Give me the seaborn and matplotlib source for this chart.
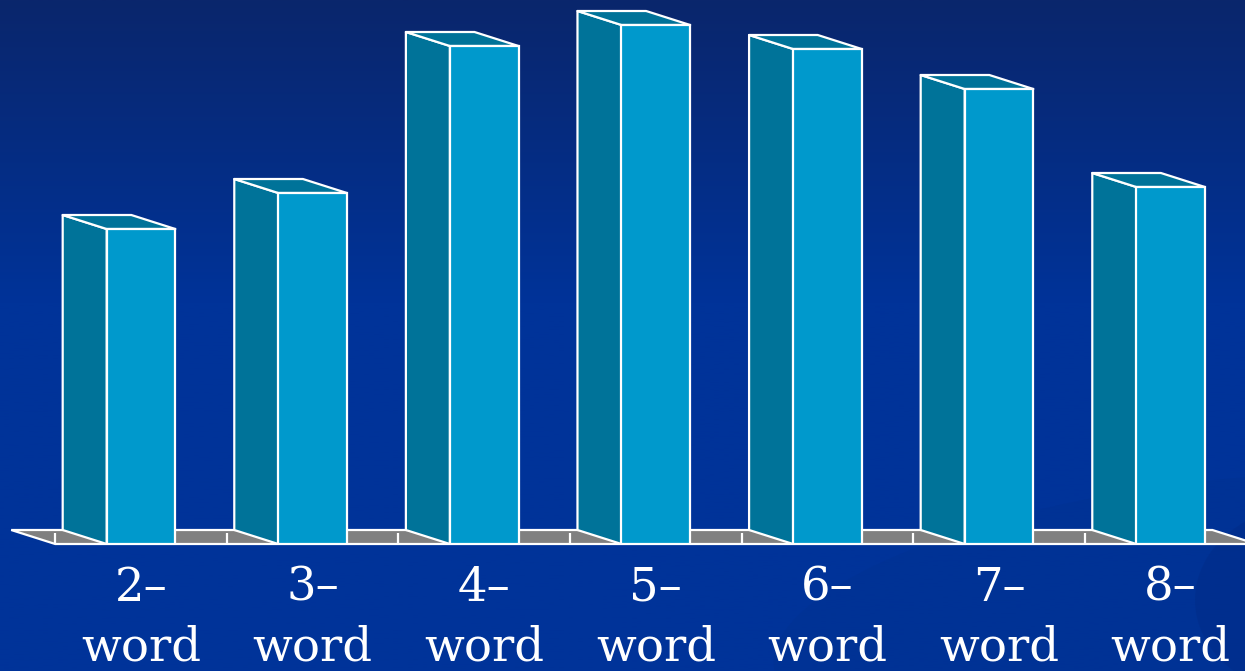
import numpy as np
import matplotlib
matplotlib.use("Agg")
import matplotlib.pyplot as plt
from matplotlib.patches import Polygon, Ellipse
from matplotlib.colors import LinearSegmentedColormap
import seaborn as sns

# ---- data ----
categories = ["2–\nword", "3–\nword", "4–\nword", "5–\nword", "6–\nword", "7–\nword", "8–\nword"]
values = [31.5, 35.1, 49.8, 51.9, 49.5, 45.5, 35.7]

FRONT = "#0099CC"
SIDE = "#007399"
FLOOR = "#808080"

sns.set_theme(style="white")
plt.rcParams["font.family"] = ["DejaVu Serif"]

W, H, DPI = 1245, 671, 100
fig = plt.figure(figsize=(W / DPI, H / DPI), dpi=DPI)

# background gradient
bg = fig.add_axes([0, 0, 1, 1], zorder=-10)
bg.set_axis_off()
cmap = LinearSegmentedColormap.from_list(
    "bgc", [(0.0, "#0a266c"), (0.45, "#003399"), (1.0, "#003399")])
grad = np.linspace(0, 1, 256).reshape(-1, 1)
bg.imshow(grad, aspect="auto", cmap=cmap, extent=[0, W, H, 0])
bg.set_xlim(0, W)
bg.set_ylim(H, 0)
bg.add_patch(Ellipse((1180, 610), 820, 250, angle=-8, facecolor="#00318f",
                     edgecolor="none", alpha=0.4))
bg.add_patch(Ellipse((1310, 600), 230, 190, angle=0, facecolor="#002c88",
                     edgecolor="none", alpha=0.5))

# main axes
base_px = 127
step = 171.6
ax = fig.add_axes([0, base_px / H, 1, (H - base_px) / H])
ax.set_facecolor("none")

sns.barplot(x=categories, y=values, width=0.4, color=FRONT, saturation=1,
            edgecolor="white", linewidth=1.6, ax=ax, zorder=3)

xmin, xmax = -141 / step, (W - 141) / step
ymax = (H - base_px) / 10
ax.set_xlim(xmin, xmax)
ax.set_ylim(0, ymax)

# depth offsets in data units (pixel offsets -44, +14)
dx = -44 * (xmax - xmin) / W
dy = 14 * ymax / (H - base_px)

# floor
n = len(categories)
floor = Polygon([(-0.5, 0), (n - 0.5, 0), (n - 0.5 + dx, dy), (-0.5 + dx, dy)],
                closed=True, facecolor=FLOOR, edgecolor="white", linewidth=1.6,
                zorder=1, clip_on=False)
ax.add_patch(floor)
for k in range(n):
    ax.plot([k - 0.5, k - 0.5], [0, 0.8 * dy], color="white", lw=1.6,
            zorder=1.5, clip_on=False, solid_capstyle="butt")

# 3D side and top faces from bar patches
for p in list(ax.patches):
    if p is floor:
        continue
    x0, w, h = p.get_x(), p.get_width(), p.get_height()
    side = Polygon([(x0, 0), (x0, h), (x0 + dx, h + dy), (x0 + dx, dy)],
                   closed=True, facecolor=SIDE, edgecolor="white",
                   linewidth=1.6, zorder=2, joinstyle="round")
    top = Polygon([(x0, h), (x0 + w, h), (x0 + w + dx, h + dy), (x0 + dx, h + dy)],
                  closed=True, facecolor=SIDE, edgecolor="white",
                  linewidth=1.6, zorder=2, joinstyle="round")
    ax.add_patch(side)
    ax.add_patch(top)

for s in ax.spines.values():
    s.set_visible(False)
ax.set_yticks([])
ax.set_xlabel("")
ax.set_ylabel("")
ax.tick_params(axis="x", length=0, pad=15.5, colors="white")
for t in ax.get_xticklabels():
    t.set_fontsize(33.5)
    t.set_color("white")
    t.set_linespacing(1.42)
    t.set_ha("center")

fig.savefig("out.png", dpi=DPI)
